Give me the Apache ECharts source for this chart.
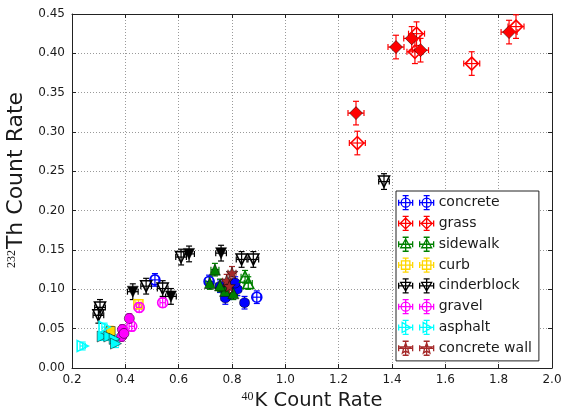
<!DOCTYPE html>
<html>
<head>
<meta charset="utf-8">
<script src="https://cdn.jsdelivr.net/npm/echarts@6/dist/echarts.min.js"></script>
<style>
  html, body { margin: 0; padding: 0; background: #fff; }
  #chart { width: 564px; height: 408px; }
</style>
</head>
<body>
<div id="chart"></div>
<script>
// Axis ticks
const kTickLabels = ['0.2', '0.4', '0.6', '0.8', '1.0', '1.2', '1.4', '1.6', '1.8', '2.0'];
const thTickLabels = ['0.00', '0.05', '0.10', '0.15', '0.20', '0.25', '0.30', '0.35', '0.40', '0.45'];

// Materials (legend order)
const materials = ['concrete', 'grass', 'sidewalk', 'curb', 'cinderblock', 'gravel', 'asphalt', 'concrete wall'];

// Measurements: 40K rate, 232Th rate, hollow marker flag (1 = open)
const concreteK      = [0.775, 0.847, 0.820, 0.812, 0.755, 0.511, 0.893, 0.714, 0.790];
const concreteTh     = [0.089, 0.083, 0.100, 0.108, 0.104, 0.112, 0.090, 0.110, 0.095];
const concreteHollow = [0, 0, 0, 0, 0, 1, 1, 1, 1];
const concreteErr    = [0.015, 0.008];

const grassK      = [1.415, 1.474, 1.507, 1.839, 1.265, 1.492, 1.486, 1.699, 1.865, 1.270];
const grassTh     = [0.408, 0.419, 0.404, 0.427, 0.324, 0.425, 0.402, 0.387, 0.434, 0.286];
const grassHollow = [0, 0, 0, 0, 0, 1, 1, 1, 1, 1];
const grassErr    = [0.030, 0.015];

const sidewalkK      = [0.736, 0.717, 0.774, 0.805, 0.755, 0.849, 0.861];
const sidewalkTh     = [0.125, 0.108, 0.098, 0.095, 0.105, 0.116, 0.108];
const sidewalkHollow = [0, 0, 0, 0, 0, 1, 1];
const sidewalkErr    = [0.015, 0.008];

const curbK      = [0.345, 0.449];
const curbTh     = [0.047, 0.081];
const curbHollow = [0, 1];
const curbErr    = [0.010, 0.006];

const cinderblockK      = [0.428, 0.571, 0.639, 0.759, 0.305, 0.299, 0.478, 0.540, 0.609, 0.836, 0.880, 1.370];
const cinderblockTh     = [0.097, 0.091, 0.145, 0.146, 0.077, 0.067, 0.104, 0.101, 0.141, 0.138, 0.138, 0.237];
const cinderblockHollow = [0, 0, 0, 0, 1, 1, 1, 1, 1, 1, 1, 1];
const cinderblockErr    = [0.020, 0.010];

const gravelK      = [0.415, 0.389, 0.386, 0.395, 0.540, 0.452, 0.424];
const gravelTh     = [0.063, 0.049, 0.040, 0.044, 0.083, 0.077, 0.053];
const gravelHollow = [0, 0, 0, 0, 1, 1, 1];
const gravelErr    = [0.010, 0.006];

const asphaltK      = [0.315, 0.340, 0.360, 0.365, 0.240, 0.322];
const asphaltTh     = [0.040, 0.040, 0.037, 0.031, 0.028, 0.052];
const asphaltHollow = [0, 0, 0, 0, 1, 1];
const asphaltErr    = [0.010, 0.005];

const wallK      = [0.800, 0.780, 0.790];
const wallTh     = [0.121, 0.111, 0.104];
const wallHollow = [0, 0, 0];
const wallErr    = [0.015, 0.008];

const materialData = {
  'concrete':      [concreteK, concreteTh, concreteHollow, concreteErr],
  'grass':         [grassK, grassTh, grassHollow, grassErr],
  'sidewalk':      [sidewalkK, sidewalkTh, sidewalkHollow, sidewalkErr],
  'curb':          [curbK, curbTh, curbHollow, curbErr],
  'cinderblock':   [cinderblockK, cinderblockTh, cinderblockHollow, cinderblockErr],
  'gravel':        [gravelK, gravelTh, gravelHollow, gravelErr],
  'asphalt':       [asphaltK, asphaltTh, asphaltHollow, asphaltErr],
  'concrete wall': [wallK, wallTh, wallHollow, wallErr]
};

// Marker styles
const starPath = (function () {
  const pts = [];
  for (let i = 0; i < 10; i++) {
    const r = i % 2 === 0 ? 10 : 4.2;
    const a = -Math.PI / 2 + i * Math.PI / 5;
    pts.push((10 + r * Math.cos(a)).toFixed(2) + ' ' + (10 + r * Math.sin(a)).toFixed(2));
  }
  return 'path://M' + pts.join(' L') + ' Z';
})();

const styles = {
  'concrete':      { color: '#0000ff', symbol: 'circle',   size: 10, rotate: 0,   shape: 'circle' },
  'grass':         { color: '#ff0000', symbol: 'diamond',  size: 13, rotate: 0,   shape: 'diamond' },
  'sidewalk':      { color: '#008000', symbol: 'triangle', size: 11, rotate: 0,   shape: 'up' },
  'curb':          { color: '#ffd700', symbol: 'rect',     size: 9,  rotate: 0,   shape: 'square' },
  'cinderblock':   { color: '#000000', symbol: 'triangle', size: 11, rotate: 180, shape: 'down' },
  'gravel':        { color: '#ff00ff', symbol: 'circle',   size: 10, rotate: 0,   shape: 'circle' },
  'asphalt':       { color: '#00ffff', symbol: 'triangle', size: 11, rotate: -90, shape: 'right' },
  'concrete wall': { color: '#a52a2a', symbol: starPath,   size: 12, rotate: 0,   shape: 'star' }
};

// Legend glyph: two hollow markers, each with x and y error bars
function markerOutline(shape, cx) {
  const f = v => v.toFixed(2);
  switch (shape) {
    case 'circle':
      return `M${f(cx + 4.5)} 7 A4.5 4.5 0 1 1 ${f(cx - 4.5)} 7 A4.5 4.5 0 1 1 ${f(cx + 4.5)} 7 Z `;
    case 'diamond':
      return `M${f(cx)} 1.5 L${f(cx + 5.5)} 7 L${f(cx)} 12.5 L${f(cx - 5.5)} 7 Z `;
    case 'up':
      return `M${f(cx)} 1.8 L${f(cx + 5)} 10.5 L${f(cx - 5)} 10.5 Z `;
    case 'down':
      return `M${f(cx)} 12.2 L${f(cx + 5)} 3.5 L${f(cx - 5)} 3.5 Z `;
    case 'right':
      return `M${f(cx + 5.2)} 7 L${f(cx - 3.5)} 2 L${f(cx - 3.5)} 12 Z `;
    case 'square':
      return `M${f(cx - 4.2)} 2.8 L${f(cx + 4.2)} 2.8 L${f(cx + 4.2)} 11.2 L${f(cx - 4.2)} 11.2 Z `;
    case 'star': {
      const pts = [];
      for (let i = 0; i < 10; i++) {
        const r = i % 2 === 0 ? 5.5 : 2.3;
        const a = -Math.PI / 2 + i * Math.PI / 5;
        pts.push(f(cx + r * Math.cos(a)) + ' ' + f(7.3 + r * Math.sin(a)));
      }
      return 'M' + pts.join(' L') + ' Z ';
    }
  }
  return '';
}
function legendIcon(shape) {
  let d = '';
  [7, 28].forEach(cx => {
    d += `M${cx - 7} 7 L${cx + 7} 7 M${cx - 7} 4 L${cx - 7} 10 M${cx + 7} 4 L${cx + 7} 10 `;
    d += `M${cx} 0 L${cx} 14 M${cx - 3} 0 L${cx + 3} 0 M${cx - 3} 14 L${cx + 3} 14 `;
    d += markerOutline(shape, cx);
  });
  return 'path://' + d;
}

// Error bars drawn through the axis scales
function errorBarRenderer(color) {
  return function (params, api) {
    const x = api.value(0), y = api.value(1), ex = api.value(2), ey = api.value(3);
    const c = api.coord([x, y]);
    const l = api.coord([x - ex, y]);
    const r = api.coord([x + ex, y]);
    const t = api.coord([x, y + ey]);
    const b = api.coord([x, y - ey]);
    const cap = 3;
    const st = { stroke: color, lineWidth: 1.2 };
    const line = (x1, y1, x2, y2) => ({ type: 'line', shape: { x1, y1, x2, y2 }, style: st });
    return {
      type: 'group',
      children: [
        line(l[0], c[1], r[0], c[1]),
        line(l[0], c[1] - cap, l[0], c[1] + cap),
        line(r[0], c[1] - cap, r[0], c[1] + cap),
        line(c[0], t[1], c[0], b[1]),
        line(c[0] - cap, t[1], c[0] + cap, t[1]),
        line(c[0] - cap, b[1], c[0] + cap, b[1])
      ]
    };
  };
}

const series = [];
materials.forEach(name => {
  const [ks, ths, hollow, err] = materialData[name];
  const s = styles[name];
  series.push({
    name: name,
    type: 'custom',
    renderItem: errorBarRenderer(s.color),
    encode: { x: 0, y: 1 },
    data: ks.map((k, i) => [k, ths[i], err[0], err[1]]),
    silent: true,
    z: 2
  });
  const filled = [], open = [];
  ks.forEach((k, i) => (hollow[i] ? open : filled).push([k, ths[i]]));
  series.push({
    name: name,
    type: 'scatter',
    data: filled,
    symbol: s.symbol,
    symbolSize: s.size,
    symbolRotate: s.rotate,
    itemStyle: { color: s.color, borderColor: '#000', borderWidth: 0.5, opacity: 1 },
    z: 3
  });
  series.push({
    name: name,
    type: 'scatter',
    data: open,
    symbol: s.symbol,
    symbolSize: s.size,
    symbolRotate: s.rotate,
    itemStyle: { color: 'rgba(0,0,0,0)', borderColor: s.color, borderWidth: 1.6, opacity: 1 },
    z: 3
  });
});

const kMin = parseFloat(kTickLabels[0]);
const kMax = parseFloat(kTickLabels[kTickLabels.length - 1]);
const thMin = parseFloat(thTickLabels[0]);
const thMax = parseFloat(thTickLabels[thTickLabels.length - 1]);

const font = 'DejaVu Sans';
const frameLine = { show: true, onZero: false, lineStyle: { color: '#222', width: 1 } };
const innerTick = { show: true, inside: true, length: 4, lineStyle: { color: '#222', width: 1 } };
const dotted = { show: true, lineStyle: { color: '#9a9a9a', type: [1, 2], width: 1 } };

const chart = echarts.init(document.getElementById('chart'), null, { renderer: 'canvas' });
chart.setOption({
  animation: false,
  backgroundColor: '#fff',
  textStyle: { fontFamily: font },
  grid: { left: 72, right: 12, top: 14, bottom: 40, containLabel: false, outerBoundsMode: 'none' },
  xAxis: [
    {
      type: 'value', min: kMin, max: kMax, interval: 0.2, position: 'bottom',
      axisLine: frameLine, axisTick: innerTick, splitLine: dotted,
      axisLabel: { fontSize: 12, color: '#1a1a1a', margin: 6, formatter: v => kTickLabels[Math.round((v - kMin) / 0.2)] },
      name: '{sup|40}{main|K Count Rate}', nameLocation: 'middle', nameGap: 20,
      nameTextStyle: {
        rich: {
          sup: { fontSize: 12, fontFamily: 'Liberation Serif', color: '#1a1a1a', verticalAlign: 'top', padding: [0, 1, 8, 0] },
          main: { fontSize: 19.5, fontFamily: font, color: '#1a1a1a' }
        }
      }
    },
    {
      type: 'value', min: kMin, max: kMax, interval: 0.2, position: 'top',
      axisLine: frameLine, axisTick: innerTick, splitLine: { show: false }, axisLabel: { show: false }
    }
  ],
  yAxis: [
    {
      type: 'value', min: thMin, max: thMax, interval: 0.05, position: 'left',
      axisLine: frameLine, axisTick: innerTick, splitLine: dotted,
      axisLabel: { fontSize: 12, color: '#1a1a1a', margin: 7, formatter: v => thTickLabels[Math.round((v - thMin) / 0.05)] },
      name: '{sup|232}{main|Th Count Rate}', nameLocation: 'middle', nameGap: 32, nameRotate: 90,
      nameTextStyle: {
        padding: [0, 0, 0, 22],
        rich: {
          sup: { fontSize: 12, fontFamily: 'Liberation Serif', color: '#1a1a1a', verticalAlign: 'top', padding: [0, 1, 9, 0] },
          main: { fontSize: 22, fontFamily: font, color: '#1a1a1a' }
        }
      }
    },
    {
      type: 'value', min: thMin, max: thMax, interval: 0.05, position: 'right',
      axisLine: frameLine, axisTick: innerTick, splitLine: { show: false }, axisLabel: { show: false }
    }
  ],
  legend: {
    orient: 'vertical',
    left: 396, top: 191,
    padding: [4, 7, 5, 2],
    itemWidth: 35, itemHeight: 14, itemGap: 5.5,
    textStyle: { fontSize: 14, fontFamily: font, color: '#1a1a1a', lineHeight: 14 },
    backgroundColor: '#fff',
    borderColor: '#222', borderWidth: 1, borderRadius: 0,
    selectedMode: false,
    data: materials.map(name => ({
      name: name,
      icon: legendIcon(styles[name].shape),
      itemStyle: { color: 'rgba(0,0,0,0)', borderColor: styles[name].color, borderWidth: 1.3, opacity: 1 }
    })),
    z: 10
  },
  series: series
});
</script>
</body>
</html>
